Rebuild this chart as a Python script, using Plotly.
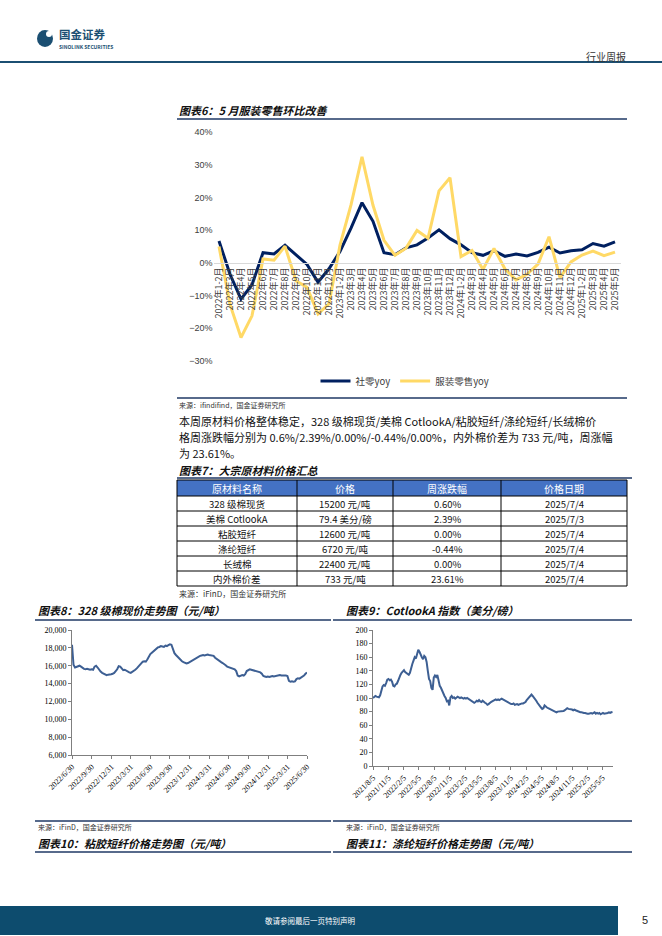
import plotly.graph_objects as go
import pandas as pd

W, H = 662, 936
def fx(x): return x / W
def fy(y): return 1 - y / H

# ---------------- data: figure 6 ----------------
months = ["2022年1-2月","2022年3月","2022年4月","2022年5月","2022年6月","2022年7月","2022年8月",
          "2022年9月","2022年10月","2022年11月","2022年12月",
          "2023年1-2月","2023年3月","2023年4月","2023年5月","2023年6月","2023年7月","2023年8月",
          "2023年9月","2023年10月","2023年11月","2023年12月",
          "2024年1-2月","2024年3月","2024年4月","2024年5月","2024年6月","2024年7月","2024年8月",
          "2024年9月","2024年10月","2024年11月","2024年12月",
          "2025年1-2月","2025年3月","2025年4月","2025年5月"]
retail_yoy = [6.7,-3.5,-11.1,-6.7,3.1,2.7,5.4,2.5,-0.5,-5.9,-1.8,
              3.5,10.6,18.4,12.7,3.1,2.5,4.6,5.5,7.6,10.1,7.4,
              5.5,3.1,2.3,3.7,2.0,2.7,2.1,3.2,4.8,3.0,3.7,
              4.0,5.9,5.1,6.4]
apparel_yoy = [5.0,-12.7,-22.8,-16.2,1.2,0.8,5.1,-5.5,-7.5,-15.6,-12.5,
               5.4,17.7,32.4,17.6,6.9,2.3,4.5,9.9,7.5,22.0,26.0,
               1.9,3.8,-2.0,4.4,-1.9,-5.2,-3.5,-0.4,8.0,-4.5,0.3,
               2.4,3.6,2.2,3.3]

# ---------------- data: table 7 ----------------
tbl_header = ["原材料名称", "价格", "周涨跌幅", "价格日期"]
tbl_names = ["328 级棉现货", "美棉 CotlookA", "粘胶短纤", "涤纶短纤", "长绒棉", "内外棉价差"]
tbl_prices = ["15200 元/吨", "79.4 美分/磅", "12600 元/吨", "6720 元/吨", "22400 元/吨", "733 元/吨"]
tbl_changes = ["0.60%", "2.39%", "0.00%", "-0.44%", "0.00%", "23.61%"]
tbl_dates = ["2025/7/4", "2025/7/3", "2025/7/4", "2025/7/4", "2025/7/4", "2025/7/4"]

# ---------------- data: figure 8 (328 cotton spot, weekly) ----------------
cotton328 = [
    18350, 16100, 15800, 15850, 15950, 16000, 15900, 15750, 15650, 15600, 15650, 15600, 15550,
    15600, 15550, 15900, 16000, 15800, 15500, 15350, 15200, 15100, 15000, 14950, 15000, 15000,
    15050, 15100, 15200, 15400, 15600, 15950, 15900, 15700, 15500, 15550, 15450, 15300, 15250,
    15200, 15300, 15450, 15550, 15700, 15900, 16100, 16250, 16450, 16500, 16450, 16700, 17100,
    17300, 17450, 17600, 17800, 18000, 18050, 18100, 18200, 18150, 18100, 18250, 18200, 18300,
    18400, 18350, 17900, 17400, 17200, 17000, 16900, 16700, 16500, 16400, 16300, 16250, 16300,
    16400, 16500, 16650, 16750, 16850, 16950, 17000, 17100, 17150, 17200, 17150, 17200, 17250,
    17200, 17150, 17150, 17100, 16900, 16750, 16700, 16500, 16400, 16300, 16200, 16050, 15900,
    15850, 15800, 15750, 15700, 15600, 15400, 14900, 14800, 14850, 14950, 14900, 15050, 15400,
    15550, 15600, 15550, 15500, 15450, 15400, 15350, 15300, 15250, 15100, 14850, 14800, 14750,
    14800, 14750, 14800, 14850, 14800, 14850, 14900, 14900, 14950, 14900, 14900, 14950, 14900,
    14850, 14300, 14200, 14250, 14200, 14250, 14500, 14600, 14550, 14650, 14800, 14900, 15100,
    15250]
cotton_ticks = ["2022/6/30","2022/9/30","2022/12/31","2023/3/31","2023/6/30","2023/9/30","2023/12/31",
                "2024/3/31","2024/6/30","2024/9/30","2024/12/31","2025/3/31","2025/6/30"]

# ---------------- data: figure 9 (CotlookA, weekly) ----------------
cotlook = [
    100, 101, 103, 102, 102, 101, 104, 110, 117, 119, 118, 122, 127,
    128, 126, 127, 124, 118, 117, 120, 121, 125, 131, 134, 137, 140,
    141, 138, 137, 135, 134, 137, 145, 150, 155, 160, 158, 166, 171,
    168, 163, 160, 157, 162, 160, 153, 140, 128, 125, 115, 112, 130,
    133, 131, 134, 125, 118, 115, 110, 105, 103, 100, 95, 96, 89,
    101, 103, 100, 101, 99, 100, 102, 101, 100, 101, 100, 99, 100,
    99, 100, 99, 98, 97, 96, 95, 93, 94, 96, 95, 97, 95,
    94, 96, 94, 93, 92, 90, 91, 93, 94, 95, 96, 97, 98,
    97, 98, 97, 98, 99, 98, 97, 96, 95, 94, 92, 91, 91,
    91, 92, 90, 91, 91, 90, 91, 91, 92, 92, 93, 94, 97,
    99, 102, 104, 105, 103, 101, 98, 96, 93, 90, 88, 86, 84,
    85, 89, 87, 86, 85, 84, 84, 83, 82, 81, 80, 79, 80,
    80, 80, 81, 80, 81, 82, 84, 85, 84, 84, 83, 83, 82,
    83, 82, 81, 80, 80, 79, 79, 78, 78, 78, 77, 77, 77,
    78, 78, 77, 78, 79, 77, 78, 77, 78, 76, 77, 78, 77,
    77, 78, 78, 79, 78, 79, 79.4]
cotlook_ticks = ["2021/8/5","2021/11/5","2022/2/5","2022/5/5","2022/8/5","2022/11/5","2023/2/5",
                 "2023/5/5","2023/8/5","2023/11/5","2024/2/5","2024/5/5","2024/8/5","2024/11/5",
                 "2025/2/5","2025/5/5"]

cotton_dates = pd.date_range("2022-06-30", "2025-06-30", periods=len(cotton328))
cotlook_dates = pd.date_range("2021-08-05", "2025-07-03", periods=len(cotlook))

CJK = "Noto Sans CJK SC"
NAVY = "#002060"
GOLD = "#FFD966"
DARKBLUE = "#1f3864"

fig = go.Figure()

# figure 6 lines
fig.add_trace(go.Scatter(x=months, y=retail_yoy, mode="lines", name="社零yoy",
                         line=dict(color=NAVY, width=3), xaxis="x", yaxis="y"))
fig.add_trace(go.Scatter(x=months, y=apparel_yoy, mode="lines", name="服装零售yoy",
                         line=dict(color=GOLD, width=3), xaxis="x", yaxis="y"))

# figure 8
fig.add_trace(go.Scatter(x=cotton_dates, y=cotton328, mode="lines", showlegend=False,
                         line=dict(color="#3d5f93", width=2), xaxis="x2", yaxis="y2"))
# figure 9
fig.add_trace(go.Scatter(x=cotlook_dates, y=cotlook, mode="lines", showlegend=False,
                         line=dict(color="#3d5f93", width=2), xaxis="x3", yaxis="y3"))

pos_zero = fy(361) + (fy(132) - fy(361)) * (30 / 70)

fig.update_layout(
    width=W, height=H,
    margin=dict(l=0, r=0, t=0, b=0, autoexpand=False),
    paper_bgcolor="white", plot_bgcolor="rgba(0,0,0,0)",
    font=dict(family=CJK, color="#333333"),
    showlegend=True,
    legend=dict(orientation="h", x=fx(405), xanchor="center", y=fy(381), yanchor="middle",
                font=dict(family=CJK, size=9.5, color="#404040"), bgcolor="rgba(0,0,0,0)",
                itemwidth=30, tracegroupgap=0),
    xaxis=dict(domain=[fx(213.5), fx(620.5)], anchor="free", position=pos_zero,
               type="category", range=[-0.5, 36.5], tickmode="array", tickvals=months,
               tickangle=-90, showline=True, linecolor="#d9d9d9", linewidth=1,
               ticks="", showgrid=False, zeroline=False,
               tickfont=dict(family=CJK, size=9, color="#404040")),
    yaxis=dict(domain=[fy(361), fy(132)], range=[-30, 40], dtick=10, ticksuffix="%",
               showgrid=False, zeroline=False, showline=False, anchor="x",
               tickfont=dict(family="Liberation Sans", size=9, color="#404040")),
    xaxis2=dict(domain=[fx(72), fx(307)], anchor="y2", type="date",
                range=["2022-06-30", "2025-06-30"],
                tickmode="array", tickvals=pd.to_datetime(cotton_ticks), ticktext=cotton_ticks,
                tickangle=-45, showline=True, linecolor="#7f7f7f", linewidth=1,
                ticks="outside", ticklen=3, tickcolor="#7f7f7f", showgrid=False,
                tickfont=dict(family="Liberation Serif", size=8, color="#000000")),
    yaxis2=dict(domain=[fy(755), fy(630)], anchor="x2", range=[6000, 20000], dtick=2000,
                tickformat=",", showline=True, linecolor="#7f7f7f", linewidth=1,
                ticks="outside", ticklen=3, tickcolor="#7f7f7f", showgrid=False, zeroline=False,
                tickfont=dict(family="Liberation Serif", size=8, color="#000000")),
    xaxis3=dict(domain=[fx(373), fx(613)], anchor="y3", type="date",
                range=["2021-08-05", "2025-07-06"],
                tickmode="array", tickvals=pd.to_datetime(cotlook_ticks), ticktext=cotlook_ticks,
                tickangle=-45, showline=True, linecolor="#7f7f7f", linewidth=1,
                ticks="outside", ticklen=3, tickcolor="#7f7f7f", showgrid=False,
                tickfont=dict(family="Liberation Serif", size=8, color="#000000")),
    yaxis3=dict(domain=[fy(766), fy(630)], anchor="x3", range=[0, 200], dtick=20,
                showline=True, linecolor="#7f7f7f", linewidth=1,
                ticks="outside", ticklen=3, tickcolor="#7f7f7f", showgrid=False, zeroline=False,
                tickfont=dict(family="Liberation Serif", size=8, color="#000000")),
)

shapes = []
anns = []
def hline(x0, x1, y, color, width):
    shapes.append(dict(type="line", xref="paper", yref="paper", x0=fx(x0), x1=fx(x1),
                       y0=fy(y), y1=fy(y), line=dict(color=color, width=width)))
def vline(x, y0, y1, color, width):
    shapes.append(dict(type="line", xref="paper", yref="paper", x0=fx(x), x1=fx(x),
                       y0=fy(y0), y1=fy(y1), line=dict(color=color, width=width)))
def txt(x, y, s, size, color="#222222", anchor="left", family=CJK, yanchor="middle"):
    anns.append(dict(x=fx(x), y=fy(y), xref="paper", yref="paper", text=s, showarrow=False,
                     xanchor=anchor, yanchor=yanchor,
                     font=dict(family=family, size=size, color=color)))

# header
hline(0, 662, 62, "#1b4f72", 2)
shapes.append(dict(type="circle", xref="paper", yref="paper", x0=fx(37), x1=fx(53),
                   y0=fy(47), y1=fy(30), fillcolor="#1b4f72", line=dict(width=0)))
shapes.append(dict(type="circle", xref="paper", yref="paper", x0=fx(46), x1=fx(52),
                   y0=fy(37), y1=fy(31), fillcolor="white", line=dict(width=0)))
# underlines
hline(177, 627, 119, DARKBLUE, 1.5)
hline(177, 627, 398, DARKBLUE, 1.5)
hline(177, 632, 478, DARKBLUE, 1.5)
hline(35, 331, 620, DARKBLUE, 1.5)
hline(333, 632, 620, DARKBLUE, 1.5)
hline(35, 331, 821, DARKBLUE, 1.5)
hline(333, 632, 821, DARKBLUE, 1.5)
hline(35, 331, 852, DARKBLUE, 1.5)
hline(333, 632, 852, DARKBLUE, 1.5)
# footer bar
shapes.append(dict(type="rect", xref="paper", yref="paper", x0=fx(0), x1=fx(618),
                   y0=fy(935), y1=fy(906), fillcolor="#0d4c6e", line=dict(width=0)))

# table 7 (grid drawn as shapes, cell texts from the data lists)
col_edges = [177, 297, 393, 501, 627]
row_edges = [480, 496, 511, 526, 541, 556, 571, 586]
shapes.append(dict(type="rect", xref="paper", yref="paper", x0=fx(177), x1=fx(627),
                   y0=fy(496), y1=fy(480), fillcolor="#4472C4", line=dict(width=0)))
for ry in row_edges:
    hline(177, 627, ry, "#000000", 1)
for cx in col_edges:
    vline(cx, row_edges[0], row_edges[-1], "#000000", 1)
columns = [tbl_names, tbl_prices, tbl_changes, tbl_dates]
for ci in range(4):
    cxm = (col_edges[ci] + col_edges[ci + 1]) / 2
    txt(cxm, (row_edges[0] + row_edges[1]) / 2, tbl_header[ci], 10, "white", anchor="center")
    for ri, val in enumerate(columns[ci]):
        txt(cxm, (row_edges[ri + 1] + row_edges[ri + 2]) / 2, val, 9.5, "#111111", anchor="center")

txt(57, 34.5, "<b>国金证券</b>", 11.5, "#1b4f72")
txt(57, 46, "<b>SINOLINK SECURITIES</b>", 5, "#1b4f72")
txt(628, 56, "行业周报", 10, "#333333", anchor="right")

txt(177, 110, "<b><i>图表6：5 月服装零售环比改善</i></b>", 11, "#111111")
txt(177, 405, "来源：ifindifind，国金证券研究所", 7, "#333333")

txt(177, 421, "本周原材料价格整体稳定，328 级棉现货/美棉 CotlookA/粘胶短纤/涤纶短纤/长绒棉价", 11, "#111111")
txt(177, 437, "格周涨跌幅分别为 0.6%/2.39%/0.00%/-0.44%/0.00%，内外棉价差为 733 元/吨，周涨幅", 11, "#111111")
txt(177, 453, "为 23.61%。", 11, "#111111")

txt(177, 470, "<b><i>图表7：大宗原材料价格汇总</i></b>", 11, "#111111")
txt(177, 593, "来源：iFinD，国金证券研究所", 8, "#333333")

txt(36, 610, "<b><i>图表8：328 级棉现价走势图（元/吨）</i></b>", 11, "#111111")
txt(344, 610, "<b><i>图表9：CotlookA 指数（美分/磅）</i></b>", 11, "#111111")
txt(36, 827, "来源：iFinD，国金证券研究所", 7, "#333333")
txt(344, 827, "来源：iFinD，国金证券研究所", 7, "#333333")
txt(36, 843, "<b><i>图表10：粘胶短纤价格走势图（元/吨）</i></b>", 11, "#111111")
txt(344, 843, "<b><i>图表11：涤纶短纤价格走势图（元/吨）</i></b>", 11, "#111111")

txt(310, 920, "敬请参阅最后一页特别声明", 7.5, "white", anchor="center")
txt(645, 920, "5", 11, "#222222", anchor="center", family="Liberation Sans")

fig.update_layout(shapes=shapes, annotations=anns)
fig.write_html("out.html", config={"displayModeBar": False},
               post_script="document.body.style.margin='0';document.body.style.overflow='hidden';")
